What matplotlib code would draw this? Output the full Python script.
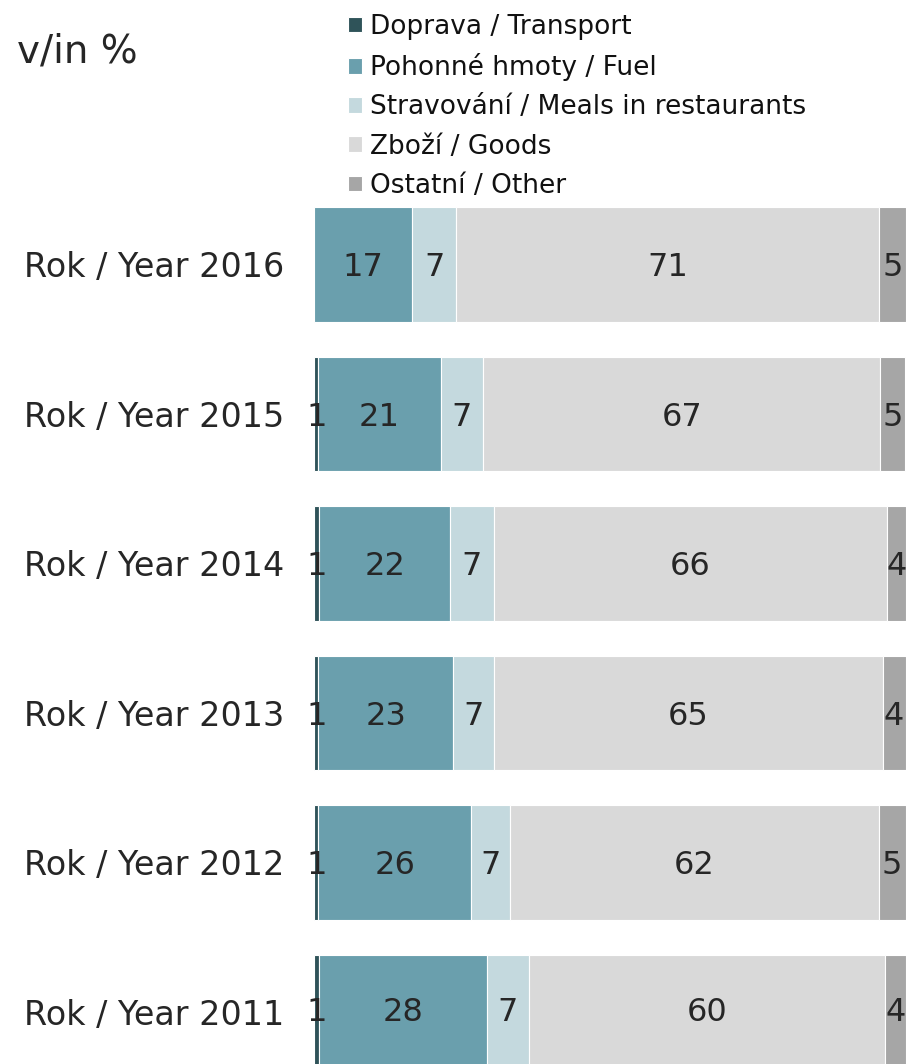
import matplotlib.pyplot as plt
import numpy as np

plt.rcParams['font.family'] = ['DejaVu Sans']

# rows listed top to bottom
years = ['Rok / Year 2016', 'Rok / Year 2015', 'Rok / Year 2014',
         'Rok / Year 2013', 'Rok / Year 2012', 'Rok / Year 2011']

# shares in %
transport = [0.0, 0.68, 0.85, 0.68, 0.68, 0.85]
fuel = [16.55, 20.7, 22.1, 22.75, 25.8, 28.3]
meals = [7.4, 7.1, 7.4, 7.0, 6.6, 7.1]
goods = [71.5, 67.2, 66.5, 65.6, 62.3, 60.2]
other = [4.5, 4.2, 3.1, 3.9, 4.56, 3.5]

# printed labels (rounded values as shown in the chart)
transport_lbl = ['', '1', '1', '1', '1', '1']
fuel_lbl = ['17', '21', '22', '23', '26', '28']
meals_lbl = ['7', '7', '7', '7', '7', '7']
goods_lbl = ['71', '67', '66', '65', '62', '60']
other_lbl = ['5', '5', '4', '4', '5', '4']

names = ['Doprava / Transport', 'Pohonné hmoty / Fuel',
         'Stravování / Meals in restaurants', 'Zboží / Goods',
         'Ostatní / Other']
colors = ['#2f5359', '#6a9fad', '#c4d9de', '#d9d9d9', '#a6a6a6']

series = [transport, fuel, meals, goods, other]
labels = [transport_lbl, fuel_lbl, meals_lbl, goods_lbl, other_lbl]

W, H = 906, 1064
fig = plt.figure(figsize=(W / 100, H / 100), dpi=100)
ax = fig.add_axes([314.3 / W, 0, 1 - 314.3 / W, (H - 190) / H])

y = np.arange(len(years))[::-1]
left = np.zeros(len(years))
for vals, lbl, name, col in zip(series, labels, names, colors):
    bars = ax.barh(y, vals, left=left, height=0.765, color=col,
                   edgecolor='white', linewidth=0.8, label=name)
    txts = ax.bar_label(bars, labels=lbl, label_type='center', fontsize=23,
                        color='#262626', clip_on=False)
    # nudge labels a little below the bar centre, as in the original
    for t in txts:
        t.set_y(-2.5)
    left += np.array(vals)

ax.set_xlim(0, 100)
ax.set_ylim(-0.348, 5.498)
ax.set_yticks(y)
ax.set_yticklabels(years, fontsize=24, color='#262626')
ax.tick_params(axis='y', length=0, pad=21.5)
ax.set_xticks([])
for s in ax.spines.values():
    s.set_visible(False)

fig.text(17 / W, 1 - 52 / H, 'v/in %', fontsize=28, color='#262626',
         va='center', ha='left')

fig.legend(loc='upper left', bbox_to_anchor=(348 / W, 1 - 14 / H),
           frameon=False, fontsize=19, handlelength=0.53, handleheight=0.53,
           handletextpad=0.3, labelspacing=0.5, borderpad=0,
           borderaxespad=0, labelcolor='#111111')

fig.savefig('out.png', dpi=100)
